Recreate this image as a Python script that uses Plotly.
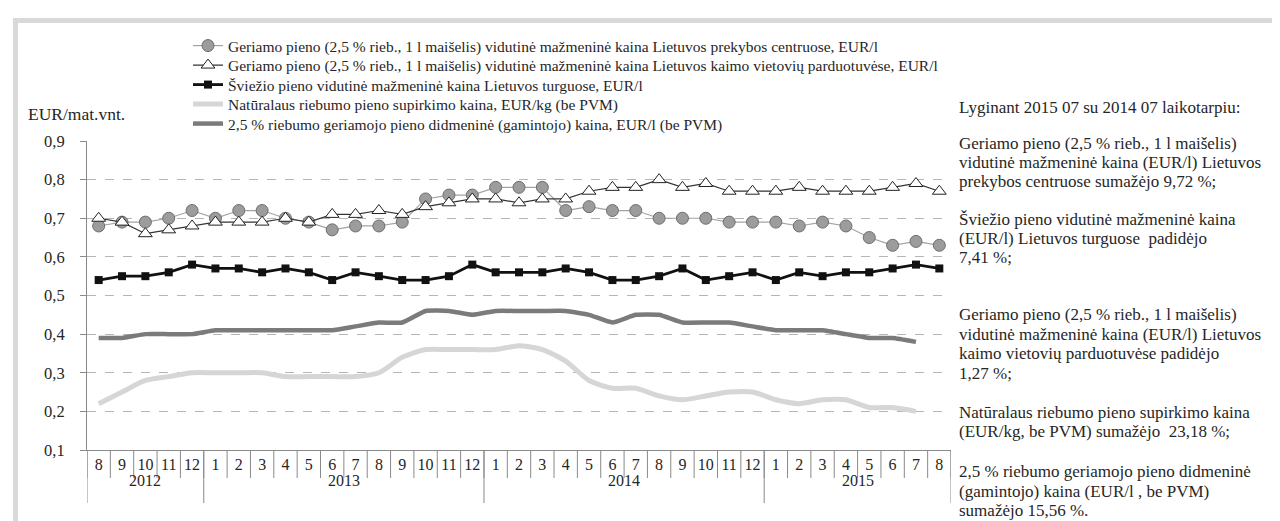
import plotly.graph_objects as go

# ---------------- data ----------------
years = [2012]*5 + [2013]*12 + [2014]*12 + [2015]*8
months = [8, 9, 10, 11, 12] + list(range(1, 13)) + list(range(1, 13)) + list(range(1, 9))

retail_centres = [0.68, 0.69, 0.69, 0.70, 0.72, 0.70, 0.72, 0.72, 0.70, 0.69, 0.67, 0.68, 0.68,
                  0.69, 0.75, 0.76, 0.76, 0.78, 0.78, 0.78, 0.72, 0.73, 0.72, 0.72, 0.70, 0.70,
                  0.70, 0.69, 0.69, 0.69, 0.68, 0.69, 0.68, 0.65, 0.63, 0.64, 0.63]
retail_rural = [0.70, 0.69, 0.66, 0.67, 0.68, 0.69, 0.69, 0.69, 0.70, 0.69, 0.71, 0.71, 0.72,
                0.71, 0.73, 0.74, 0.75, 0.75, 0.74, 0.75, 0.75, 0.77, 0.78, 0.78, 0.80, 0.78,
                0.79, 0.77, 0.77, 0.77, 0.78, 0.77, 0.77, 0.77, 0.78, 0.79, 0.77]
fresh_market = [0.54, 0.55, 0.55, 0.56, 0.58, 0.57, 0.57, 0.56, 0.57, 0.56, 0.54, 0.56, 0.55,
                0.54, 0.54, 0.55, 0.58, 0.56, 0.56, 0.56, 0.57, 0.56, 0.54, 0.54, 0.55, 0.57,
                0.54, 0.55, 0.56, 0.54, 0.56, 0.55, 0.56, 0.56, 0.57, 0.58, 0.57]
purchase_raw = [0.22, 0.25, 0.28, 0.29, 0.30, 0.30, 0.30, 0.30, 0.29, 0.29, 0.29, 0.29, 0.30,
                0.34, 0.36, 0.36, 0.36, 0.36, 0.37, 0.36, 0.33, 0.28, 0.26, 0.26, 0.24, 0.23,
                0.24, 0.25, 0.25, 0.23, 0.22, 0.23, 0.23, 0.21, 0.21, 0.20, None]
wholesale = [0.39, 0.39, 0.40, 0.40, 0.40, 0.41, 0.41, 0.41, 0.41, 0.41, 0.41, 0.42, 0.43,
             0.43, 0.46, 0.46, 0.45, 0.46, 0.46, 0.46, 0.46, 0.45, 0.43, 0.45, 0.45, 0.43,
             0.43, 0.43, 0.42, 0.41, 0.41, 0.41, 0.40, 0.39, 0.39, 0.38, None]

names = [
    "Geriamo pieno (2,5 % rieb., 1 l maišelis) vidutinė mažmeninė kaina Lietuvos prekybos centruose, EUR/l",
    "Geriamo pieno (2,5 % rieb., 1 l maišelis) vidutinė mažmeninė kaina Lietuvos kaimo vietovių parduotuvėse, EUR/l",
    "Šviežio pieno vidutinė mažmeninė kaina Lietuvos turguose, EUR/l",
    "Natūralaus riebumo pieno supirkimo kaina, EUR/kg (be PVM)",
    "2,5 % riebumo geriamojo pieno didmeninė (gamintojo) kaina, EUR/l (be PVM)",
]
y_title = "EUR/mat.vnt."
note_lines = [
    ("Lyginant 2015 07 su 2014 07 laikotarpiu:", 99),
    ("Geriamo pieno (2,5 % rieb., 1 l maišelis)", 135),
    ("vidutinė mažmeninė kaina (EUR/l) Lietuvos", 154),
    ("prekybos centruose sumažėjo 9,72 %;", 173),
    ("Šviežio pieno vidutinė mažmeninė kaina", 211),
    ("(EUR/l) Lietuvos turguose  padidėjo", 230),
    ("7,41 %;", 249),
    ("Geriamo pieno (2,5 % rieb., 1 l maišelis)", 306),
    ("vidutinė mažmeninė kaina (EUR/l) Lietuvos", 326),
    ("kaimo vietovių parduotuvėse padidėjo", 345),
    ("1,27 %;", 365),
    ("Natūralaus riebumo pieno supirkimo kaina", 404),
    ("(EUR/kg, be PVM) sumažėjo  23,18 %;", 423),
    ("2,5 % riebumo geriamojo pieno didmeninė", 463),
    ("(gamintojo) kaina (EUR/l , be PVM)", 483),
    ("sumažėjo 15,56 %.", 502),
]

# ---------------- layout geometry ----------------
W, H = 1280, 521
L, R, T, B = 79, 943, 133, 442
def px(x):  # pixel -> paper x
    return (x - L) / (R - L)
def py(y):  # pixel -> paper y
    return (B - y) / (B - T)

cats = [f"{y}-{m:02d}" for y, m in zip(years, months)]
FONT = "'Liberation Serif', 'Times New Roman', 'DejaVu Serif', serif"
TXT = "#262626"
legend_ids = ["legend", "legend2", "legend3", "legend4", "legend5"]
legend_y = [38, 57.5, 77, 96.5, 116]

fig = go.Figure()
fig.add_trace(go.Scatter(x=cats, y=retail_centres, name=names[0], mode="lines+markers",
                         legend=legend_ids[0],
                         line=dict(color="#a3a3a3", width=1.2),
                         marker=dict(symbol="circle", size=12, color="#9c9c9c",
                                     line=dict(color="#6e6e6e", width=1))))
fig.add_trace(go.Scatter(x=cats, y=retail_rural, name=names[1], mode="lines+markers",
                         legend=legend_ids[1],
                         line=dict(color="#333333", width=1.2),
                         marker=dict(symbol="triangle-up", size=12, color="white",
                                     line=dict(color="#222222", width=1))))
fig.add_trace(go.Scatter(x=cats, y=fresh_market, name=names[2], mode="lines+markers",
                         legend=legend_ids[2],
                         line=dict(color="#111111", width=2.8),
                         marker=dict(symbol="square", size=8, color="#111111")))
fig.add_trace(go.Scatter(x=cats, y=purchase_raw, name=names[3], mode="lines",
                         legend=legend_ids[3],
                         line=dict(color="#d6d6d6", width=5, shape="spline", smoothing=0.7)))
fig.add_trace(go.Scatter(x=cats, y=wholesale, name=names[4], mode="lines",
                         legend=legend_ids[4],
                         line=dict(color="#7b7b7b", width=4.5, shape="spline", smoothing=0.4)))

shapes = []
n = len(cats)
for i in range(n + 1):
    shapes.append(dict(type="line", xref="x", yref="paper", x0=i - 0.5, x1=i - 0.5,
                       y0=0, y1=py(470), line=dict(color="#8a8a8a", width=1)))
annotations = []
bounds = [0] + [i for i in range(1, n) if years[i] != years[i - 1]] + [n]
for b in bounds:
    shapes.append(dict(type="line", xref="x", yref="paper", x0=b - 0.5, x1=b - 0.5,
                       y0=0, y1=py(495), line=dict(color="#8a8a8a", width=1)))
for a, b in zip(bounds[:-1], bounds[1:]):
    annotations.append(dict(x=(a + b - 1) / 2, y=py(483), xref="x", yref="paper",
                            text=str(years[a]), showarrow=False,
                            font=dict(family=FONT, size=16, color=TXT)))
shapes.append(dict(type="rect", xref="paper", yref="paper", x0=px(7.5), x1=px(1300),
                   y0=py(12.5), y1=py(540), line=dict(color="#d9d9d9", width=5)))

annotations.append(dict(x=px(18), y=py(106), xref="paper", yref="paper", text=y_title,
                        showarrow=False, xanchor="left", yanchor="middle",
                        font=dict(family=FONT, size=17.5, color=TXT)))
for txt, yy in note_lines:
    annotations.append(dict(x=px(949), y=py(yy), xref="paper", yref="paper", text=txt,
                            showarrow=False, xanchor="left", yanchor="middle",
                            font=dict(family=FONT, size=17, color=TXT)))

layout_legends = {}
for lid, ly in zip(legend_ids, legend_y):
    layout_legends[lid] = dict(x=px(180), y=py(ly), xanchor="left", yanchor="middle",
                               font=dict(family=FONT, size=15.5, color=TXT),
                               bgcolor="rgba(0,0,0,0)", borderwidth=0)

fig.update_layout(
    width=W, height=H, autosize=False,
    margin=dict(l=L, r=W - R, t=T, b=H - B, pad=0),
    paper_bgcolor="white", plot_bgcolor="white",
    separators=", ",
    font=dict(family=FONT, size=15, color=TXT),
    showlegend=True,
    shapes=shapes, annotations=annotations,
    **layout_legends,
)
fig.update_xaxes(type="category", categoryorder="array", categoryarray=cats,
                 tickvals=cats, ticktext=[str(m) for m in months], tickangle=0,
                 showline=True, linecolor="#8a8a8a", linewidth=1, ticks="",
                 showgrid=False, range=[-0.5, n - 0.5],
                 tickfont=dict(family=FONT, size=16, color=TXT))
fig.update_yaxes(range=[0.1, 0.9], dtick=0.1, tick0=0.1, tickformat=".1f",
                 showline=True, linecolor="#8a8a8a", linewidth=1,
                 ticks="outside", ticklen=6, tickcolor="#8a8a8a",
                 ticklabelstandoff=12,
                 showgrid=True, gridcolor="#b5b5b5", griddash="dash", gridwidth=1,
                 zeroline=False,
                 tickfont=dict(family=FONT, size=16.5, color=TXT))

fig.write_html("out.html")
